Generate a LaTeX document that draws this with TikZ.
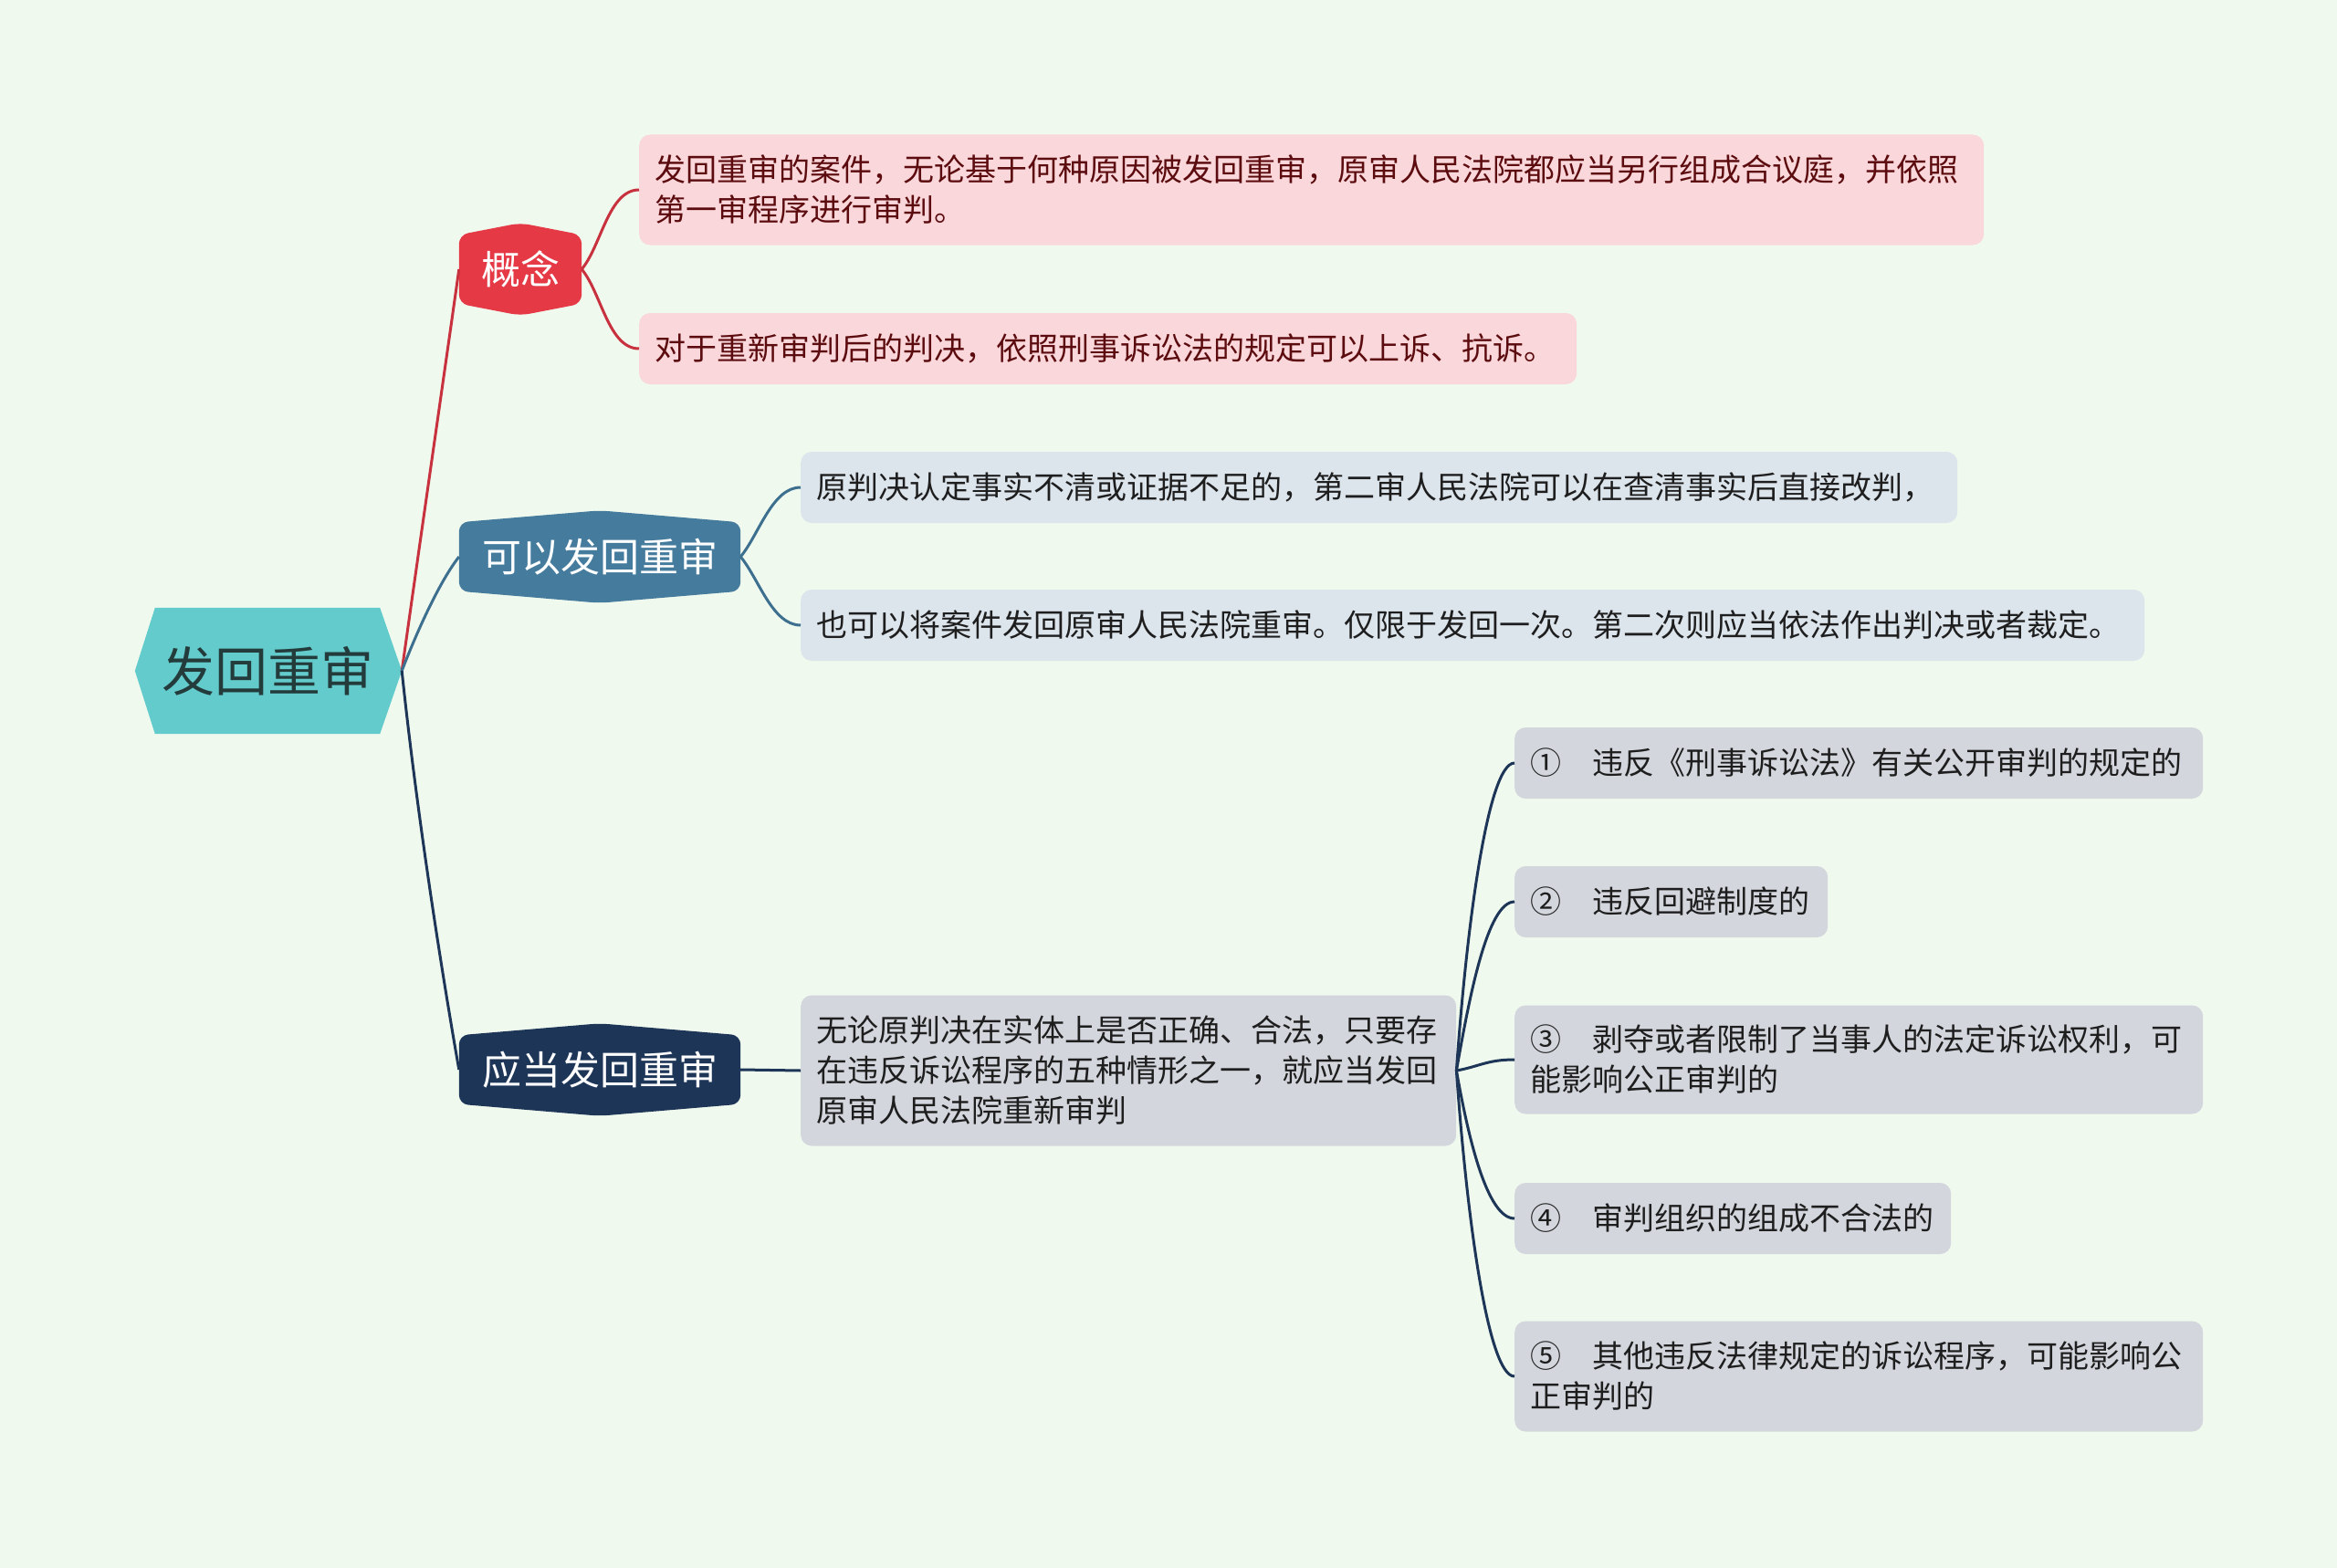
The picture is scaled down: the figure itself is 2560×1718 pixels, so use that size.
\documentclass[tikz,border=0pt]{standalone}
\usepackage{fontspec}
\setmainfont{Noto Sans CJK SC}
\usetikzlibrary{backgrounds}

\definecolor{pagebg}{HTML}{F0F9EE}
\definecolor{rootfill}{HTML}{63CBCC}
\definecolor{roottext}{HTML}{243B3B}
\definecolor{gnred}{HTML}{E63946}
\definecolor{gnline}{HTML}{C8313E}
\definecolor{kyblue}{HTML}{457B9D}
\definecolor{kyline}{HTML}{3D6F8F}
\definecolor{ydnavy}{HTML}{1D3557}
\definecolor{pinkleaf}{HTML}{F9D7DB}
\definecolor{pinktext}{HTML}{5C0B0E}
\definecolor{blueleaf}{HTML}{DCE4EC}
\definecolor{grayleaf}{HTML}{D3D6DD}
\definecolor{leaftext}{HTML}{1E1E1E}

\tikzset{
  root/.style={
    minimum width=246pt,
    minimum height=138pt,
    inner sep=0pt,
    text=roottext,
    font=\fontsize{58}{66}\selectfont,
  },
  topic/.style={
    minimum height=75pt,
    inner sep=0pt,
    text=white,
    font=\fontsize{43}{50}\selectfont,
  },
  leaf/.style={
    anchor=west,
    rounded corners=12pt,
    inner xsep=17pt,
    inner ysep=0pt,
    minimum height=78pt,
    align=left,
    font=\fontsize{34}{44}\selectfont,
  },
  pinkleaf/.style={leaf, fill=pinkleaf, text=pinktext},
  blueleaf/.style={leaf, fill=blueleaf, text=leaftext},
  grayleaf/.style={leaf, fill=grayleaf, text=leaftext},
  link/.style={line width=3pt},
}

\begin{document}
\begin{tikzpicture}[x=1pt, y=1pt]
  \useasboundingbox (0,0) rectangle (2560,-1718);

  % main topics
  \node[root] (root) at (293,-735) {发回重审};
  \node[topic, minimum width=134pt] (gn) at (570,-295) {概念};
  \node[topic, minimum width=308pt] (kyi) at (657,-610) {可以发回重审};
  \node[topic, minimum width=308pt] (yd) at (657,-1172) {应当发回重审};

  % leaves
  \node[pinkleaf, text width=1439pt, minimum height=121pt] (gn1) at (700,-208)
    {发回重审的案件，无论基于何种原因被发回重审，原审人民法院都应当另行组成合议庭，并依照\\第一审程序进行审判。};
  \node[pinkleaf, text width=993pt] (gn2) at (700,-382)
    {对于重新审判后的判决，依照刑事诉讼法的规定可以上诉、抗诉。};
  \node[blueleaf, text width=1233pt] (ky1) at (877,-534)
    {原判决认定事实不清或证据不足的，第二审人民法院可以在查清事实后直接改判，};
  \node[blueleaf, text width=1438pt] (ky2) at (877,-685)
    {也可以将案件发回原审人民法院重审。仅限于发回一次。第二次则应当依法作出判决或者裁定。};
  \node[grayleaf, text width=684pt, minimum height=165pt] (yd1) at (877,-1173)
    {无论原判决在实体上是否正确、合法，只要存\\在违反诉讼程序的五种情形之一，就应当发回\\原审人民法院重新审判};
  \node[grayleaf, text width=720pt] (g1) at (1659,-836)
    {①　违反《刑事诉讼法》有关公开审判的规定的};
  \node[grayleaf, text width=309pt] (g2) at (1659,-988)
    {②　违反回避制度的};
  \node[grayleaf, text width=720pt, minimum height=119pt] (g3) at (1659,-1161)
    {③　剥夺或者限制了当事人的法定诉讼权利，可\\能影响公正审判的};
  \node[grayleaf, text width=444pt] (g4) at (1659,-1335)
    {④　审判组织的组成不合法的};
  \node[grayleaf, text width=720pt, minimum height=121pt] (g5) at (1659,-1508)
    {⑤　其他违反法律规定的诉讼程序，可能影响公\\正审判的};

  \begin{pgfonlayer}{background}
    \fill[pagebg] (0,0) rectangle (2560,-1718);
    \fill[rootfill] ([xshift=-22pt]root.west) -- (root.north west) -- (root.north east)
      -- ([xshift=24pt]root.east) -- (root.south east) -- (root.south west) -- cycle;
    \foreach \n/\c in {gn/gnred, kyi/kyblue, yd/ydnavy}
      \fill[\c, rounded corners=10pt] (\n.south west) -- (\n.north west)
        -- ([yshift=13pt]\n.north) -- (\n.north east) -- (\n.south east)
        -- ([yshift=-13pt]\n.south) -- cycle;
  \end{pgfonlayer}

  % connectors
  \coordinate (rtip) at ([xshift=24pt]root.east);
  \draw[link, gnline] (rtip) to[out=82, in=-98, out distance=150pt, in distance=100pt] (gn.west);
  \draw[link, kyline] (rtip) to[out=69, in=232, out distance=43pt, in distance=36pt] (kyi.west);
  \draw[link, ydnavy] (rtip) to[out=-84, in=100, out distance=150pt, in distance=120pt] (yd.west);

  \foreach \leaf/\ang in {gn1/50, gn2/-50}
    \draw[link, gnline] (gn.east) to[out=\ang, in=180, looseness=0.8] (\leaf.west);
  \foreach \leaf/\ang in {ky1/50, ky2/-50}
    \draw[link, kyline] (kyi.east) to[out=\ang, in=180, looseness=0.8] (\leaf.west);
  \draw[link, ydnavy] (yd.east) -- (yd1.west);
  \foreach \leaf/\ang/\d in {g1/86/150pt, g2/80/80pt, g3/10/25pt, g4/-80/75pt, g5/-86/150pt}
    \draw[link, ydnavy] (yd1.east) to[out=\ang, in=180, out distance=\d, in distance=30pt] (\leaf.west);
\end{tikzpicture}
\end{document}
